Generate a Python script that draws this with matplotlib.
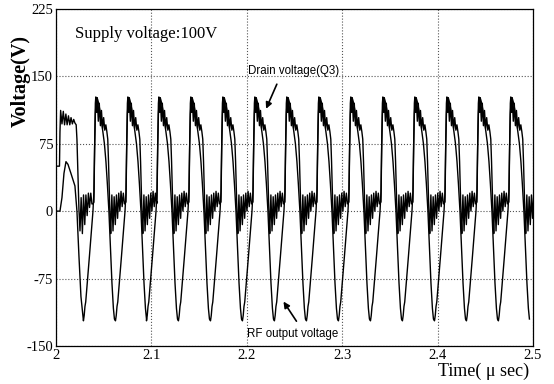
import numpy as np
import matplotlib
matplotlib.use('Agg')
import matplotlib.pyplot as plt

# Rising edges of the drain voltage pulses (usec)
rise_times = [2.0398, 2.0734, 2.1059, 2.1394, 2.1730, 2.2065, 2.2400,
              2.2736, 2.3071, 2.3407, 2.3742, 2.4078, 2.4413, 2.4748]

# One drain voltage cycle after a rising edge: offset (ns), voltage (V)
drain_dt = [0, 0.8, 1.5, 2.0, 2.8, 3.5, 4.6, 5.6, 6.8, 7.9, 9.1, 10.2, 11.4,
            12.5, 13.6, 14.5, 15.3, 16.0, 16.8, 17.6, 18.8, 20.0, 21.2, 22.4,
            23.6, 24.8, 26.0, 27.2, 28.4, 29.6, 30.8, 32.0, 33.0]
drain_v = [10, 75, 120, 127, 110, 126, 100, 120, 95, 112, 92, 104, 90,
           96, 88, 80, 55, 25, -5, -25, 18, -22, 16, -15,
           18, -8, 20, 0, 22, 5, 20, 8, 10]

# One RF output cycle around a rising edge: offset (ns), voltage (V)
rf_dt = [-11.0, -10.2, -9.4, -8.6, -6.8, -4.7, -2.6, -1.0, 0, 0.7, 1.5, 2.3,
         3.4, 4.7, 6.3, 7.9, 9.4, 11.0, 12.6, 14.1, 15.7, 17.3, 18.9, 20.4,
         21.5]
rf_v = [-122, -116, -106, -101, -78, -50, -22, 0, 22, 70, 108, 122,
        126, 121, 112, 100, 88, 75, 55, 30, 0, -40, -80, -108,
        -120]

# Start-up part before the first full cycle
drain_start_t = [2.0000, 2.0037, 2.0042, 2.0049, 2.0063, 2.0077, 2.0090,
                 2.0104, 2.0117, 2.0131, 2.0145, 2.0158, 2.0172, 2.0186,
                 2.0199, 2.0212, 2.0220, 2.0231, 2.0241, 2.0252, 2.0264,
                 2.0277, 2.0289, 2.0302, 2.0314, 2.0327, 2.0340, 2.0352,
                 2.0365, 2.0377, 2.0388]
drain_start_v = [50, 50, 88, 112, 97, 111, 96,
                 108, 96, 106, 96, 104, 97, 102,
                 98, 96, 80, 40, 2, -22, 15,
                 -25, 18, -15, 18, -5, 20, 4,
                 20, 8, 8]
rf_start_t = [2.0000, 2.0042, 2.0063, 2.0084, 2.0105, 2.0126, 2.0157,
              2.0199, 2.0220, 2.0241, 2.0262]
rf_start_v = [0, 0, 15, 42, 55, 52, 42, 28, 0, -50, -95]

# assemble full traces from the read cycles
drain_t, drain_y = list(drain_start_t), list(drain_start_v)
rf_t, rf_y = list(rf_start_t), list(rf_start_v)
for r in rise_times:
    drain_t += [r + d / 1000 for d in drain_dt]
    drain_y += drain_v
    rf_t += [r + d / 1000 for d in rf_dt]
    rf_y += rf_v

serif = 'Liberation Serif'
fig = plt.figure(figsize=(5.54, 3.84), dpi=100)
ax = fig.add_axes([0.101, 0.099, 0.861, 0.878])

ax.plot(drain_t, drain_y, color='black', lw=1.0)
ax.plot(rf_t, rf_y, color='black', lw=1.0)

ax.set_xlim(2, 2.5)
ax.set_ylim(-150, 225)
xt = [2, 2.1, 2.2, 2.3, 2.4, 2.5]
yt = [-150, -75, 0, 75, 150, 225]
ax.set_xticks(xt)
ax.set_xticklabels(['2', '2.1', '2.2', '2.3', '2.4', '2.5'], family=serif, fontsize=10.5)
ax.set_yticks(yt)
ax.set_yticklabels(['-150', '-75', '0', '75', '150', '225'], family=serif, fontsize=10.5)
ax.tick_params(length=0, pad=2)
ax.grid(True, linestyle=':', color='#555555', lw=0.8)
for s in ax.spines.values():
    s.set_linewidth(0.9)

fig.text(0.037, 0.79, 'Voltage(V)', rotation=90, family=serif, fontsize=14.5,
         fontweight='bold', ha='center', va='center')
fig.text(0.955, 0.033, 'Time( \u03bc sec)', family=serif, fontsize=13,
         ha='right', va='center')
ax.text(2.0195, 197, 'Supply voltage:100V', family=serif, fontsize=12, va='center')

ax.text(2.2013, 156, 'Drain voltage(Q3)', family='Liberation Sans', fontsize=8.3, va='center')
ax.annotate('', xy=(2.2191, 111), xytext=(2.2327, 144),
            arrowprops=dict(arrowstyle='-|>', color='black', lw=1.2, mutation_scale=9))
ax.text(2.2002, -137, 'RF output voltage', family='Liberation Sans', fontsize=8.3, va='center')
ax.annotate('', xy=(2.2369, -98), xytext=(2.2537, -125),
            arrowprops=dict(arrowstyle='-|>', color='black', lw=1.2, mutation_scale=9))

fig.savefig('out.png', dpi=100)
